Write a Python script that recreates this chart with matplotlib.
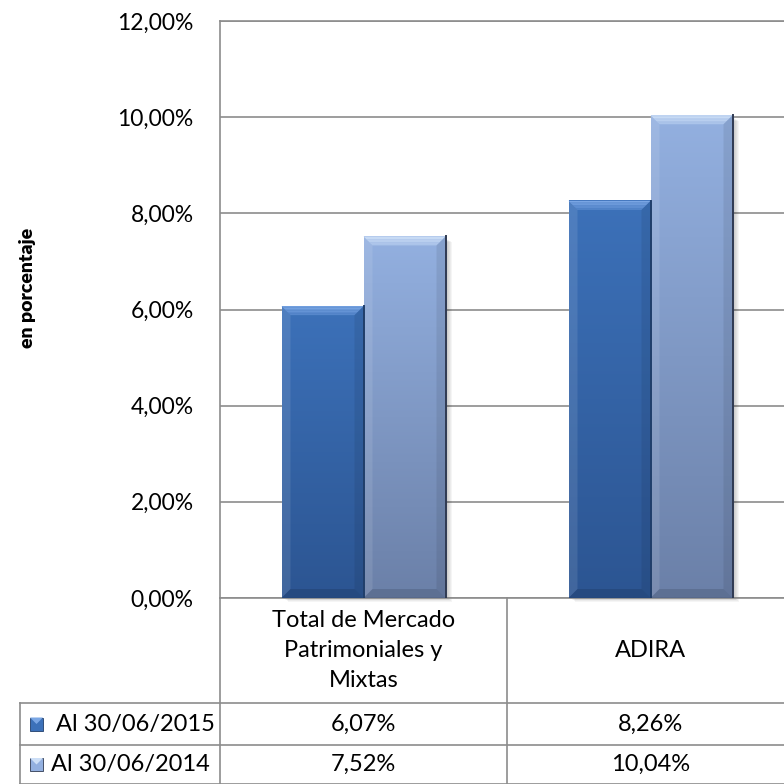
import numpy as np
import matplotlib.pyplot as plt
from matplotlib.patches import Polygon, Rectangle
from matplotlib.colors import to_rgb
from matplotlib.transforms import blended_transform_factory

categories = ["Total de Mercado\nPatrimoniales y\nMixtas", "ADIRA"]
series_names = ["Al 30/06/2015", "Al 30/06/2014"]
values_2015 = [6.07, 8.26]
values_2014 = [7.52, 10.04]
yticks = [0, 2, 4, 6, 8, 10, 12]

plt.rcParams['font.family'] = ['Lato', 'DejaVu Sans']
FS = 16.5
TFS = 17

W = 784.0
fig = plt.figure(figsize=(7.84, 7.84), dpi=100)
# plot area: left 220px, top 21px, bottom 598px, one category = 287px (runs off the right edge)
catw = 287.0
ax = fig.add_axes([220 / W, (W - 598) / W, 2 * catw / W, 577 / W])
ax.set_xlim(-0.5, 1.5)
ax.set_ylim(0, 12)
grid_c = "#8c8c8c"
for s in ax.spines.values():
    s.set_color(grid_c)
    s.set_linewidth(1.2)
ax.set_yticks(yticks)
ax.set_yticklabels([f"{t:.2f}".replace(".", ",") + "%" for t in yticks], fontsize=FS)
ax.tick_params(axis='y', length=0, pad=19)
ax.set_xticks([])
ax.yaxis.grid(True, color=grid_c, lw=1.2)
ax.set_axisbelow(True)
fig.text(28 / W, 1 - 288 / W, "en porcentaje", rotation=90, ha='center', va='center',
         fontsize=14, fontweight='heavy')

x = np.arange(len(categories))
bw = 82 / catw
styles = [
    dict(top="#3c71b9", bot="#2c5592", bevel="#7aa6e4", edge="#203e6a"),
    dict(top="#93b0e0", bot="#6b80a8", bevel="#cddff7", edge="#2f3a52"),
]

px_x = 1 / catw          # one pixel in data x
px_y = 12 / 577.0        # one pixel in data y


def fancy(bars, st):
    for b in bars:
        x0, w, h = b.get_x(), b.get_width(), b.get_height()
        b.set_facecolor("none")
        b.set_edgecolor("none")
        # shadow
        for k in range(1, 7):
            ax.add_patch(Rectangle((x0 + k * px_x, -k * px_y * 0.6), w, h - 2 * px_y, color="k",
                                   alpha=0.04, lw=0, zorder=2, clip_on=False))
        c1, c2 = np.array(to_rgb(st["top"])), np.array(to_rgb(st["bot"]))
        t = np.linspace(0, 1, 100)[:, None]
        img = (c1 * (1 - t) + c2 * t)[:, None, :]
        ax.imshow(img, extent=[x0, x0 + w, 0, h], aspect='auto', zorder=3,
                  interpolation='bilinear')
        bx, by = 9 * px_x, 9 * px_y
        cb, ct = np.array(to_rgb(st["bevel"])), np.array(to_rgb(st["top"]))
        # top bevel as small gradient
        n = 6
        for k in range(n):
            f0, f1 = k / n, (k + 1) / n
            col = cb * (1 - f0 * 0.7) + ct * f0 * 0.7
            poly = [(x0 + bx * f0, h - by * f0), (x0 + w - bx * f0, h - by * f0),
                    (x0 + w - bx * f1, h - by * f1), (x0 + bx * f1, h - by * f1)]
            ax.add_patch(Polygon(poly, closed=True, color=col, lw=0, zorder=4))
        ax.add_patch(Polygon([(x0, h), (x0 + bx, h - by), (x0 + bx, by), (x0, 0)],
                             closed=True, color="white", alpha=0.10, lw=0, zorder=4))
        ax.add_patch(Polygon([(x0 + w, h), (x0 + w - bx, h - by), (x0 + w - bx, by), (x0 + w, 0)],
                             closed=True, color="black", alpha=0.08, lw=0, zorder=4))
        ax.add_patch(Polygon([(x0, 0), (x0 + bx, by), (x0 + w - bx, by), (x0 + w, 0)],
                             closed=True, color="black", alpha=0.12, lw=0, zorder=4))
        ax.plot([x0 + w, x0 + w], [0, h], color=st["edge"], lw=1.4, zorder=5)
        ax.plot([x0, x0 + w], [0, 0], color=st["edge"], lw=1.0, zorder=5, alpha=0.6)


b1 = ax.bar(x - bw / 2, values_2015, bw)
b2 = ax.bar(x + bw / 2, values_2014, bw)
fancy(b1, styles[0])
fancy(b2, styles[1])
ax.set_xlim(-0.5, 1.5)
ax.set_ylim(0, 12)

# data table below the plot
tr = blended_transform_factory(ax.transData, ax.transAxes)
ay = 577.0
r1, r2, r3 = -105 / ay, -147 / ay, -186 / ay
xl = -0.5 - 200 / catw
lk = dict(color=grid_c, lw=1.2, transform=tr, clip_on=False)
ax.plot([-0.5, -0.5], [0, r3], **lk)
ax.plot([0.5, 0.5], [0, r3], **lk)
ax.plot([xl, xl], [r1, r3], **lk)
ax.plot([xl, 1.5], [r1, r1], **lk)
ax.plot([xl, 1.5], [r2, r2], **lk)
ax.plot([xl, 1.5], [r3, r3], **lk)

for i, c in enumerate(categories):
    ax.text(x[i], r1 / 2, c, transform=tr, ha='center', va='center', fontsize=TFS,
            linespacing=1.55)
    ax.text(x[i], (r1 + r2) / 2, f"{values_2015[i]:.2f}".replace(".", ",") + "%",
            transform=tr, ha='center', va='center', fontsize=TFS)
    ax.text(x[i], (r2 + r3) / 2, f"{values_2014[i]:.2f}".replace(".", ",") + "%",
            transform=tr, ha='center', va='center', fontsize=TFS)

for j, (name, st) in enumerate(zip(series_names, styles)):
    yc = [(r1 + r2) / 2, (r2 + r3) / 2][j]
    kx = xl + 10 / catw
    ks = 13 / catw
    ky = 13 / ay
    ax.add_patch(Rectangle((kx, yc - ky / 2), ks, ky, transform=tr, clip_on=False,
                           fc=st["top"], ec=st["edge"], lw=0.6))
    ax.add_patch(Polygon([(kx, yc + ky / 2), (kx + ks, yc + ky / 2), (kx + ks / 2, yc)],
                         transform=tr, clip_on=False, fc=st["bevel"], lw=0))
    ax.text(kx + ks + [13, 8][j] / catw, yc, name, transform=tr, ha='left', va='center',
            fontsize=TFS)

fig.savefig("out.png", dpi=100)
